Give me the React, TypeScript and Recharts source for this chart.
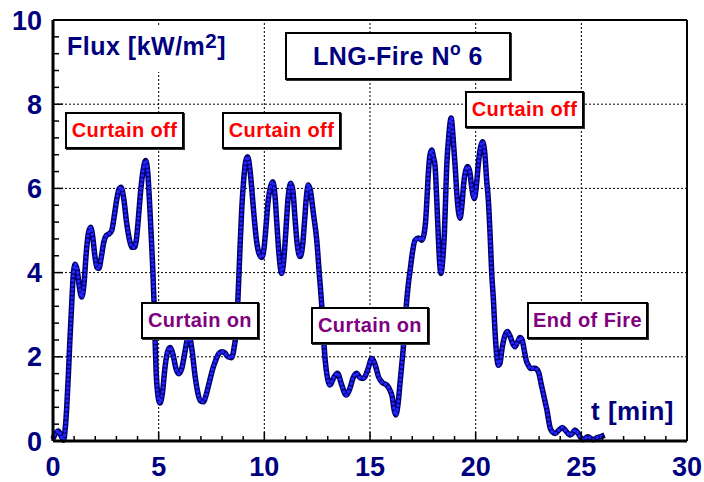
import React from "react";
import { LineChart, Line, XAxis, YAxis, ReferenceLine } from "recharts";

// time [min] and heat flux [kW/m2]
const T_MIN = [
  0, 0.12, 0.25, 0.38, 0.5, 0.58, 0.65, 0.73, 0.8, 0.88, 0.96, 1.05, 1.15, 1.25, 1.36, 1.47,
  1.57, 1.68, 1.78, 1.88, 1.98, 2.08, 2.17, 2.28, 2.4, 2.52, 2.65, 2.78, 2.9, 3.02, 3.12, 3.22,
  3.35, 3.48, 3.62, 3.75, 3.85, 3.95, 4.05, 4.15, 4.27, 4.38, 4.48, 4.57, 4.65, 4.72, 4.78, 4.83,
  4.88, 4.95, 5.06, 5.18, 5.3, 5.42, 5.54, 5.68, 5.82, 5.95, 6.08, 6.22, 6.35, 6.45, 6.58, 6.72,
  6.85, 6.98, 7.11, 7.25, 7.4, 7.55, 7.7, 7.85, 7.98, 8.12, 8.28, 8.45, 8.58, 8.69, 8.77, 8.85,
  8.93, 9.03, 9.12, 9.21, 9.32, 9.42, 9.52, 9.62, 9.75, 9.88, 9.98, 10.08, 10.18, 10.3, 10.4, 10.5,
  10.6, 10.7, 10.82, 10.92, 11.02, 11.12, 11.25, 11.35, 11.45, 11.55, 11.69, 11.8, 11.9, 12.0, 12.08, 12.18,
  12.32, 12.48, 12.6, 12.72, 12.83, 12.95, 13.11, 13.28, 13.46, 13.65, 13.87, 14.05, 14.2, 14.37, 14.53, 14.69,
  14.9, 15.08, 15.25, 15.4, 15.6, 15.79, 15.95, 16.05, 16.15, 16.22, 16.32, 16.42, 16.5, 16.58, 16.66, 16.74,
  16.82, 16.9, 17.0, 17.13, 17.3, 17.45, 17.55, 17.63, 17.7, 17.76, 17.84, 17.92, 18.0, 18.08, 18.16, 18.24,
  18.3, 18.36, 18.44, 18.52, 18.58, 18.63, 18.72, 18.84, 18.94, 19.03, 19.12, 19.2, 19.26, 19.35, 19.43, 19.5,
  19.62, 19.72, 19.82, 19.94, 20.04, 20.13, 20.22, 20.32, 20.42, 20.52, 20.6, 20.68, 20.76, 20.84, 20.92, 21.0,
  21.07, 21.15, 21.25, 21.38, 21.5, 21.62, 21.75, 21.86, 21.98, 22.1, 22.2, 22.3, 22.4, 22.49, 22.6, 22.72,
  22.81, 22.9, 23.0, 23.1, 23.2, 23.3, 23.37, 23.45, 23.52, 23.62, 23.76, 23.92, 24.1, 24.25, 24.47, 24.6,
  24.7, 24.85, 25.0, 25.1, 25.3, 25.45, 25.57, 25.75, 25.9, 26.1,
];
const FLUX = [
  0.05, 0.18, 0.24, 0.12, 0.02, 0.3, 0.8, 1.6, 2.4, 3.2, 3.95, 4.2, 4.05, 3.65, 3.42, 3.75,
  4.45, 4.95, 5.08, 4.85, 4.4, 4.12, 4.1, 4.35, 4.72, 4.88, 4.92, 5.0, 5.35, 5.75, 5.98, 6.03,
  5.75, 5.2, 4.78, 4.6, 4.6, 4.8, 5.35, 5.95, 6.45, 6.66, 6.4, 5.65, 4.85, 4.1, 3.3, 2.4,
  1.65, 1.15, 0.9, 1.15, 1.75, 2.12, 2.22, 2.05, 1.72, 1.6, 1.7, 2.05, 2.4, 2.48, 2.15, 1.55,
  1.15, 0.95, 0.93, 1.1, 1.4, 1.7, 1.92, 2.08, 2.12, 2.1, 2.0, 1.98, 2.25, 2.72, 3.6, 4.6,
  5.5, 6.25, 6.65, 6.75, 6.45, 5.9, 5.3, 4.8, 4.45, 4.36, 4.55, 5.1, 5.7, 6.05, 6.16, 5.85,
  5.1, 4.4, 3.98, 4.3, 5.0, 5.75, 6.12, 5.95, 5.3, 4.7, 4.38, 4.6, 5.2, 5.85, 6.08, 5.95,
  5.41, 4.77, 3.98, 3.19, 2.24, 1.61, 1.33, 1.5, 1.61, 1.35, 1.09, 1.25, 1.5, 1.61, 1.5, 1.49,
  1.7, 1.96, 1.8, 1.53, 1.38, 1.33, 1.2, 1.05, 0.72, 0.62, 0.85, 1.37, 1.8, 2.24, 2.8, 3.35,
  3.75, 4.06, 4.45, 4.77, 4.82, 4.77, 4.9, 5.2, 5.8, 6.36, 6.8, 6.91, 6.75, 6.52, 5.72, 4.77,
  4.2, 3.98, 4.3, 4.93, 5.8, 6.52, 7.2, 7.67, 7.15, 6.52, 5.8, 5.4, 5.29, 5.6, 6.1, 6.36,
  6.52, 6.4, 6.0, 5.76, 6.1, 6.6, 6.95, 7.11, 6.9, 6.2, 5.72, 4.93, 3.98, 3.35, 2.56, 2.0,
  1.8, 1.85, 2.2, 2.5, 2.6, 2.5, 2.32, 2.24, 2.35, 2.46, 2.4, 2.15, 1.9, 1.8, 1.72, 1.73,
  1.73, 1.7, 1.6, 1.35, 1.13, 0.9, 0.74, 0.5, 0.32, 0.22, 0.18, 0.25, 0.32, 0.25, 0.14, 0.2,
  0.26, 0.18, 0.06, 0.03, 0.1, 0.06, 0.03, 0.08, 0.1, 0.14,
];

const X_TICKS = [0, 5, 10, 15, 20, 25, 30];
const X_MINOR = [
  0, 1, 2, 3, 4, 5, 6, 7, 8, 9, 10, 11, 12, 13, 14, 15, 16, 17, 18, 19, 20, 21, 22, 23, 24, 25,
  26, 27, 28, 29, 30,
];
const Y_TICKS = [0, 2, 4, 6, 8, 10];
const Y_MINOR = [
  0, 0.4, 0.8, 1.2, 1.6, 2, 2.4, 2.8, 3.2, 3.6, 4, 4.4, 4.8, 5.2, 5.6, 6, 6.4, 6.8, 7.2, 7.6, 8,
  8.4, 8.8, 9.2, 9.6, 10,
];
const X_GRID = [5, 10, 15, 20, 25];
const Y_GRID = [2, 4, 6, 8];

const data = T_MIN.map((t, i) => ({ t, flux: FLUX[i] }));

const FONT = 'Arial, "Liberation Sans", Helvetica, sans-serif';
const NAVY = "#00007f";

function XTick(props: any) {
  const { x, y, payload } = props;
  const major = X_TICKS.includes(payload.value);
  return (
    <g>
      <line x1={x} x2={x} y1={y} y2={y - (major ? 9 : 5)} stroke="#000" strokeWidth={1.5} />
      {major && (
        <text x={x} y={y + 35} textAnchor="middle" fill={NAVY} fontSize={27} fontWeight="bold" fontFamily={FONT}>
          {payload.value}
        </text>
      )}
    </g>
  );
}

function YTick(props: any) {
  const { x, y, payload } = props;
  const major = Y_TICKS.includes(payload.value);
  return (
    <g>
      <line x1={x} x2={x + (major ? 10 : 6)} y1={y} y2={y} stroke="#000" strokeWidth={1.5} />
      {major && (
        <text x={x - 11} y={y + 9.5} textAnchor="end" fill={NAVY} fontSize={27} fontWeight="bold" fontFamily={FONT}>
          {payload.value}
        </text>
      )}
    </g>
  );
}

function Note({ left, top, width, height, color, children }: any) {
  return (
    <div
      style={{
        position: "absolute",
        left,
        top,
        width,
        height,
        boxSizing: "border-box",
        border: "2px solid #000",
        boxShadow: "1px 1px 0 #333",
        background: "#fff",
        color,
        fontSize: 20,
        fontWeight: "bold",
        letterSpacing: 0.4,
        display: "flex",
        alignItems: "center",
        justifyContent: "center",
        whiteSpace: "nowrap",
      }}
    >
      {children}
    </div>
  );
}

export default function App() {
  return (
    <div
      style={{
        position: "fixed",
        left: 0,
        top: 0,
        width: 704,
        height: 482,
        background: "#fff",
        fontFamily: FONT,
      }}
    >
      <LineChart width={704} height={482} data={data} margin={{ top: 20, right: 17, bottom: 0, left: 0 }}>
        <XAxis
          dataKey="t"
          type="number"
          domain={[0, 30]}
          ticks={X_MINOR}
          interval={0}
          height={41}
          tickSize={0}
          tickMargin={0}
          tickLine={false}
          axisLine={{ stroke: "#000", strokeWidth: 3 }}
          tick={<XTick />}
        />
        <YAxis
          type="number"
          domain={[0, 10]}
          ticks={Y_MINOR}
          interval={0}
          width={53}
          tickSize={0}
          tickMargin={0}
          tickLine={false}
          axisLine={{ stroke: "#000", strokeWidth: 3 }}
          tick={<YTick />}
        />
        {X_GRID.map((v) => (
          <ReferenceLine key={"x" + v} x={v} stroke="#000" strokeWidth={1} strokeDasharray="2 2" />
        ))}
        {Y_GRID.map((v) => (
          <ReferenceLine key={"y" + v} y={v} stroke="#000" strokeWidth={1} strokeDasharray="2 2" />
        ))}
        <ReferenceLine y={10} stroke="#000" strokeWidth={2} />
        <ReferenceLine x={30} stroke="#000" strokeWidth={2} />
        <Line
          dataKey="flux"
          type="monotone"
          stroke="#000068"
          strokeWidth={5.5}
          dot={false}
          activeDot={false}
          isAnimationActive={false}
        />
        <Line
          dataKey="flux"
          type="monotone"
          stroke="#2323ff"
          strokeWidth={3.4}
          strokeDasharray="0.1 4.2"
          strokeLinecap="round"
          dot={false}
          activeDot={false}
          isAnimationActive={false}
        />
      </LineChart>

      <div
        style={{
          position: "absolute",
          left: 62,
          top: 25,
          width: 180,
          height: 47,
          background: "#fff",
        }}
      >
        <div
          style={{
            position: "absolute",
            left: 5,
            top: 9,
            color: NAVY,
            fontSize: 25,
            fontWeight: "bold",
            letterSpacing: 0.5,
            lineHeight: 1,
            whiteSpace: "nowrap",
          }}
        >
          Flux [kW/m<span style={{ fontSize: "0.82em", position: "relative", top: "-0.35em" }}>2</span>]
        </div>
      </div>

      <div
        style={{
          position: "absolute",
          left: 285,
          top: 32,
          width: 226,
          height: 48,
          boxSizing: "border-box",
          border: "2px solid #000",
          boxShadow: "1px 1px 0 #333",
          background: "#fff",
          color: NAVY,
          fontSize: 25,
          fontWeight: "bold",
          letterSpacing: 0.5,
          display: "flex",
          alignItems: "center",
          justifyContent: "center",
          whiteSpace: "nowrap",
        }}
      >
        LNG-Fire N<span style={{ fontSize: "0.7em", position: "relative", top: "-0.4em" }}>o</span>&nbsp;6
      </div>

      <Note left={65} top={112} width={119} height={37} color="#ff0000">Curtain off</Note>
      <Note left={222} top={112} width={119} height={37} color="#ff0000">Curtain off</Note>
      <Note left={465} top={91} width={119} height={37} color="#ff0000">Curtain off</Note>
      <Note left={141} top={302} width={118} height={37} color="#800080">Curtain on</Note>
      <Note left={311} top={307} width={118} height={37} color="#800080">Curtain on</Note>
      <Note left={527} top={302} width={121} height={37} color="#800080">End of Fire</Note>

      <div
        style={{
          position: "absolute",
          left: 591,
          top: 398,
          color: NAVY,
          fontSize: 26,
          fontWeight: "bold",
          letterSpacing: 0.5,
          lineHeight: 1,
          whiteSpace: "nowrap",
        }}
      >
        t [min]
      </div>
    </div>
  );
}
